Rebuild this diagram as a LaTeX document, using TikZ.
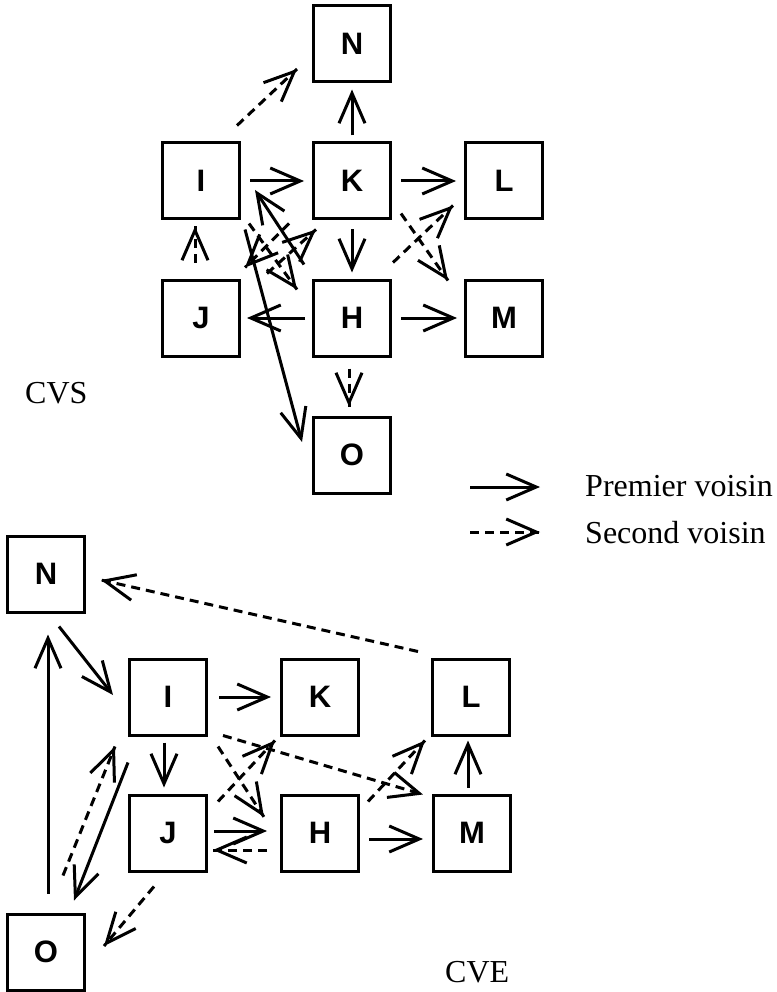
\documentclass[tikz,border=0pt]{standalone}
\usepackage{fontspec}
\setmainfont{Liberation Serif}
\newfontfamily\boxfont{Liberation Sans}
\usetikzlibrary{arrows.meta,decorations.markings}
\tikzset{
  myhead/.tip={Straight Barb[length=30pt,width=26pt,line width=3pt]},
  box/.style={draw, line width=3pt, minimum width=77pt, minimum height=76pt, inner sep=0pt,
    font=\boxfont\fontsize{31}{33}\selectfont\bfseries},
  sol/.style={line width=3pt, -myhead},
  das/.style={line width=3pt, dash pattern=on 9pt off 6pt,
    decoration={markings, mark=at position 1 with {\pgfsetdash{}{0pt}\arrow{myhead}}},
    postaction={decorate}},
  lbl/.style={font=\fontsize{32}{34}\selectfont, anchor=base west, inner sep=0pt}
}
\begin{document}
\begin{tikzpicture}[x=1pt,y=-1pt]
\useasboundingbox (0,0) rectangle (776,992);
% ---------- CVS ----------
\node[box] (N1) at (352,44) {N};
\node[box] (I1) at (201,181) {I};
\node[box] (K1) at (352,181) {K};
\node[box] (L1) at (504,181) {L};
\node[box] (J1) at (201,318) {J};
\node[box] (H1) at (352,318) {H};
\node[box] (M1) at (504,318) {M};
\node[box] (O1) at (352,455) {O};
\node[lbl] (cvs) at (25,403) {CVS};
% solid
\draw[sol, shorten <=6pt, shorten >=6pt] (K1) -- (N1);
\draw[sol, shorten <=9pt, shorten >=8pt] (I1) -- (K1);
\draw[sol, shorten <=9pt, shorten >=8pt] (K1) -- (L1);
\draw[sol, shorten <=9pt, shorten >=6pt] (K1) -- (H1);
\draw[sol, shorten <=7pt, shorten >=6pt] (H1) -- (J1);
\draw[sol, shorten <=9pt, shorten >=7pt] (H1) -- (M1);
\draw[sol] ([shift={(-8,-14)}]H1.north west) -- ([shift={(14,9)}]I1.east);
\draw[sol] ([shift={(4,9)}]I1.south east) -- ([shift={(-10,-13)}]O1.west);
% dashed
\draw[das] ([shift={(-4,-16)}]I1.north east) -- ([shift={(-15,25)}]N1.west);
\draw[das] ([shift={(-6,-16)}]J1.north) -- ([shift={(-6,6)}]I1.south);
\draw[das] ([shift={(8,3)}]I1.south east) -- ([shift={(-15,11)}]H1.north west);
\draw[das] ([shift={(-23,3)}]K1.south west) -- ([shift={(4,-11)}]J1.north east);
\draw[das] ([shift={(26,-5)}]J1.north east) -- ([shift={(4,9)}]K1.south west);
\draw[das] ([shift={(9,-7)}]K1.south east) -- ([shift={(-16,2)}]M1.north west);
\draw[das] ([shift={(1,-16)}]H1.north east) -- ([shift={(-11,-15)}]L1.south west);
\draw[das] ([shift={(-3,11)}]H1.south) -- ([shift={(-3,-9)}]O1.north);
% ---------- legend ----------
\coordinate (la1) at (470,487);
\coordinate (lb1) at (540,487);
\coordinate (la2) at (470,532);
\coordinate (lb2) at (540,532);
\draw[sol] (la1) -- (lb1);
\draw[das] (la2) -- (lb2);
\node[lbl] (t1) at (585,496) {Premier voisin};
\node[lbl] (t2) at (585,543) {Second voisin};
% ---------- CVE ----------
\node[box] (N2) at (46,574) {N};
\node[box] (I2) at (168,697) {I};
\node[box] (K2) at (320,697) {K};
\node[box] (L2) at (471,697) {L};
\node[box] (J2) at (168,833) {J};
\node[box] (H2) at (320,833) {H};
\node[box] (M2) at (472,833) {M};
\node[box] (O2) at (46,952) {O};
\node[lbl] (cve) at (445,982) {CVE};
% solid
\draw[sol] ([shift={(2,-19)}]O2.north) -- ([shift={(2,21)}]N2.south);
\draw[sol] ([shift={(-27,13)}]N2.south east) -- ([shift={(-15,-2)}]I2.west);
\draw[sol, shorten <=11pt, shorten >=9pt] (I2) -- (K2);
\draw[sol] ([shift={(-4,6)}]I2.south) -- ([shift={(-4,-6)}]J2.north);
\draw[sol] ([shift={(0,26)}]I2.south west) -- ([shift={(-12,-12)}]O2.north east);
\draw[sol] ([shift={(6,-2)}]J2.east) -- ([shift={(-13,-2)}]H2.west);
\draw[sol] ([shift={(9,6)}]H2.east) -- ([shift={(-9,6)}]M2.west);
\draw[sol] ([shift={(-4,-6)}]M2.north) -- ([shift={(-3,4)}]L2.south);
% dashed
\draw[das] ([shift={(-13,-6)}]L2.north west) -- ([shift={(15,6)}]N2.east);
\draw[das] ([shift={(17,-37)}]O2.north) -- ([shift={(-13,10)}]I2.south west);
\draw[das] ([shift={(-14,14)}]J2.south) -- ([shift={(18,-6)}]O2.east);
\draw[das] ([shift={(10,10)}]I2.south east) -- ([shift={(-16,-16)}]H2.west);
\draw[das] ([shift={(10,8)}]J2.north east) -- ([shift={(-5,4)}]K2.south west);
\draw[das] ([shift={(15,-1)}]I2.south east) -- ([shift={(-9,1)}]M2.north west);
\draw[das] ([shift={(8,8)}]H2.north east) -- ([shift={(-6,4)}]L2.south west);
\draw[das] ([shift={(-13,17)}]H2.west) -- ([shift={(5,17)}]J2.east);
\end{tikzpicture}
\end{document}
